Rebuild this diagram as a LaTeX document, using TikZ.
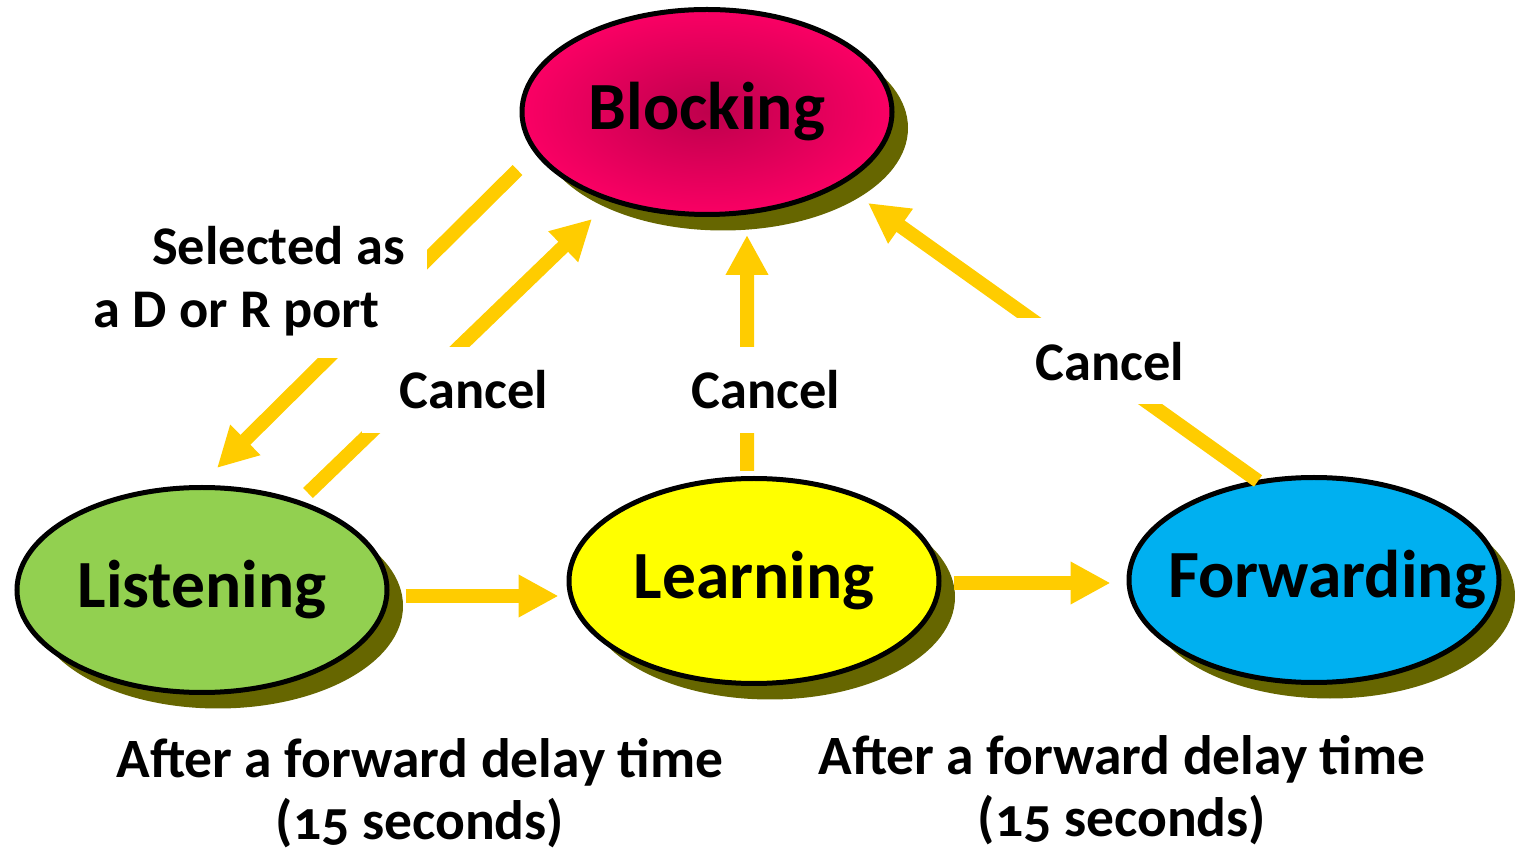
\documentclass[tikz,border=0pt]{standalone}
\usepackage{fontspec}
\setmainfont{Carlito}[Numbers=OldStyle]
\usetikzlibrary{arrows.meta,shapes.geometric,shadows}

\definecolor{blkpink}{HTML}{FA0064}
\definecolor{blkcore}{HTML}{BE004C}
\definecolor{lisgreen}{HTML}{92D050}
\definecolor{lrnyellow}{HTML}{FFFF00}
\definecolor{fwdblue}{HTML}{00B0F0}
\definecolor{shadowolive}{HTML}{666600}
\definecolor{arrowgold}{HTML}{FFCC00}

\begin{document}
\begin{tikzpicture}[>={Triangle[length=0.4cm,width=0.4cm]},font=\bfseries]
  \tikzstyle{port state}=[ellipse,draw=black,line width=0.05cm,minimum width=3.7cm,minimum height=2.05cm,
    inner xsep=-0.6cm,inner ysep=0pt,
    font=\fontsize{19.2}{22}\selectfont\bfseries,
    drop shadow={fill=shadowolive,opacity=1,shadow xshift=0.16cm,shadow yshift=-0.16cm}]
  \tikzstyle{flow}=[->,draw=arrowgold,line width=0.14cm]
  \tikzstyle{cut label}=[fill=white,inner xsep=0.38cm,inner ysep=0pt,minimum height=0.86cm,font=\fontsize{15.5}{17.8}\selectfont\bfseries]
  \tikzstyle{delay note}=[align=center,inner sep=0pt,font=\fontsize{15.8}{17.8}\selectfont\bfseries]

  \useasboundingbox (0,0) rectangle (15.15,-8.52);

  \node[port state,shading=radial,inner color=blkcore,outer color=blkpink] (blk) at (7.07,-1.12) {Blocking};
  \node[port state,fill=lisgreen]  (lis) at (2.02,-5.90)  {Listening};
  \node[port state,fill=lrnyellow] (lrn) at (7.54,-5.81)  {Learning};
  \node[port state,fill=fwdblue]   (fwd) at (13.14,-5.80) {\hspace*{0.26cm}Forwarding};

  \path
  ([shift={(-0.02,-0.58)}]blk.west) edge[flow] ([shift={(0.15,0.17)}]lis.north)
  ([shift={(1.06,-0.08)}]lis.north) edge[flow] ([shift={(-1.15,-0.02)}]blk.south)
  ([shift={(-0.07,0.05)}]lrn.north) edge[flow] ([shift={(0.40,-0.18)}]blk.south)
  ([shift={(-0.56,-0.06)}]fwd.north) edge[flow] ([shift={(1.61,0.14)}]blk.south)
  ([shift={(0.16,-0.06)}]lis.east) edge[flow] ([shift={(-0.08,-0.15)}]lrn.west)
  ([shift={(0.12,-0.02)}]lrn.east) edge[flow] ([shift={(-0.16,-0.03)}]fwd.west);

  % labels sit on white boxes that cut the arrows
  \node[cut label,align=left,inner sep=0.22cm,minimum height=0pt] (sel) at (2.49,-2.81) {\hspace*{0.59cm}Selected as\\a D or R port};
  \node[cut label] (cnl) at (4.74,-3.90)  {Cancel};
  \node[cut label] (cnm) at (7.66,-3.90)  {Cancel};
  \node[cut label] (cnr) at (11.10,-3.615) {Cancel};

  \node[delay note] (dl) at (4.20,-7.93)  {After a forward delay time\\(15 seconds)};
  \node[delay note] (dr) at (11.22,-7.90) {After a forward delay time\\(15 seconds)};
\end{tikzpicture}
\end{document}
